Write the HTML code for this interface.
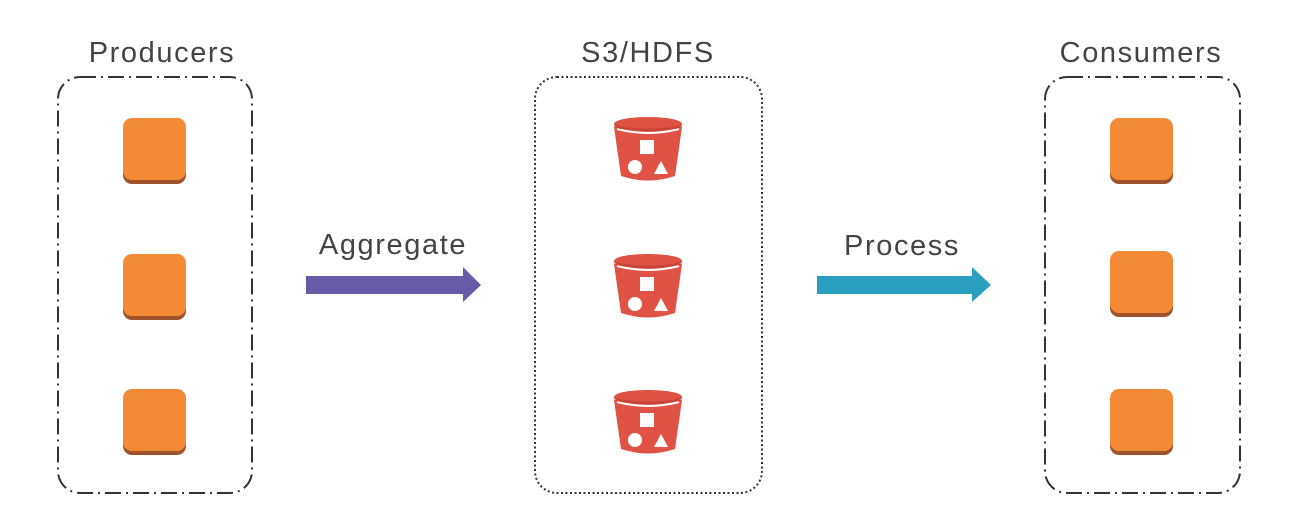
<!DOCTYPE html>
<html><head><style>
html,body{margin:0;padding:0;background:#fff;}
svg{display:block;}
text{font-family:"Liberation Sans",sans-serif;fill:#444;font-weight:normal;letter-spacing:1.6px;}
</style></head><body>
<svg width="1299" height="526" viewBox="0 0 1299 526" xmlns="http://www.w3.org/2000/svg">
<defs>
<g id="sq">
<rect x="0" y="3" width="63" height="63" rx="9" fill="#a0522d"/>
<rect x="0" y="0" width="63" height="62" rx="9" fill="#f28a36"/>
</g>
<g id="bk">
<path d="M0 10 L7 59 Q34 68 61 59 L68 10 Z" fill="#e05243"/>
<path d="M3 12 Q34 20 65 12" stroke="#fff" stroke-width="2" fill="none"/>
<ellipse cx="34" cy="7" rx="34" ry="7" fill="#e05243"/>
<ellipse cx="34" cy="9" rx="34" ry="5" fill="#b83a2e" opacity="0.6"/>
<ellipse cx="34" cy="6" rx="33" ry="5.5" fill="#e05243"/>
<rect x="26" y="23" width="14" height="14" fill="#fff"/>
<circle cx="21" cy="50" r="7" fill="#fff"/>
<path d="M40 57 L47 44 L54 57 Z" fill="#fff"/>
</g>
</defs>

<text x="162" y="62" font-size="29" text-anchor="middle">Producers</text>
<text x="648" y="62" font-size="29" text-anchor="middle">S3/HDFS</text>
<text x="1141" y="62" font-size="29" text-anchor="middle">Consumers</text>

<rect x="58" y="77" width="194" height="416" rx="22" fill="none" stroke="#333" stroke-width="2" stroke-dasharray="16,5,2,5"/>
<rect x="535" y="77" width="227" height="416" rx="22" fill="none" stroke="#333" stroke-width="2" stroke-dasharray="2,2.5"/>
<rect x="1045" y="77" width="195" height="416" rx="22" fill="none" stroke="#333" stroke-width="2" stroke-dasharray="16,5,2,5"/>

<use href="#sq" x="123" y="118"/>
<use href="#sq" x="123" y="254"/>
<use href="#sq" x="123" y="389"/>
<use href="#sq" x="1110" y="118"/>
<use href="#sq" x="1110" y="251"/>
<use href="#sq" x="1110" y="389"/>

<use href="#bk" x="614" y="117"/>
<use href="#bk" x="614" y="254"/>
<use href="#bk" x="614" y="390"/>

<text x="393" y="254" font-size="29" text-anchor="middle">Aggregate</text>
<path d="M306 276 L463 276 L463 267 L481 285 L463 302 L463 294 L306 294 Z" fill="#675ba8"/>

<text x="902" y="255" font-size="29" text-anchor="middle">Process</text>
<path d="M817 276 L972 276 L972 267 L991 285 L972 302 L972 294 L817 294 Z" fill="#2b9fbf"/>
</svg>
</body></html>
